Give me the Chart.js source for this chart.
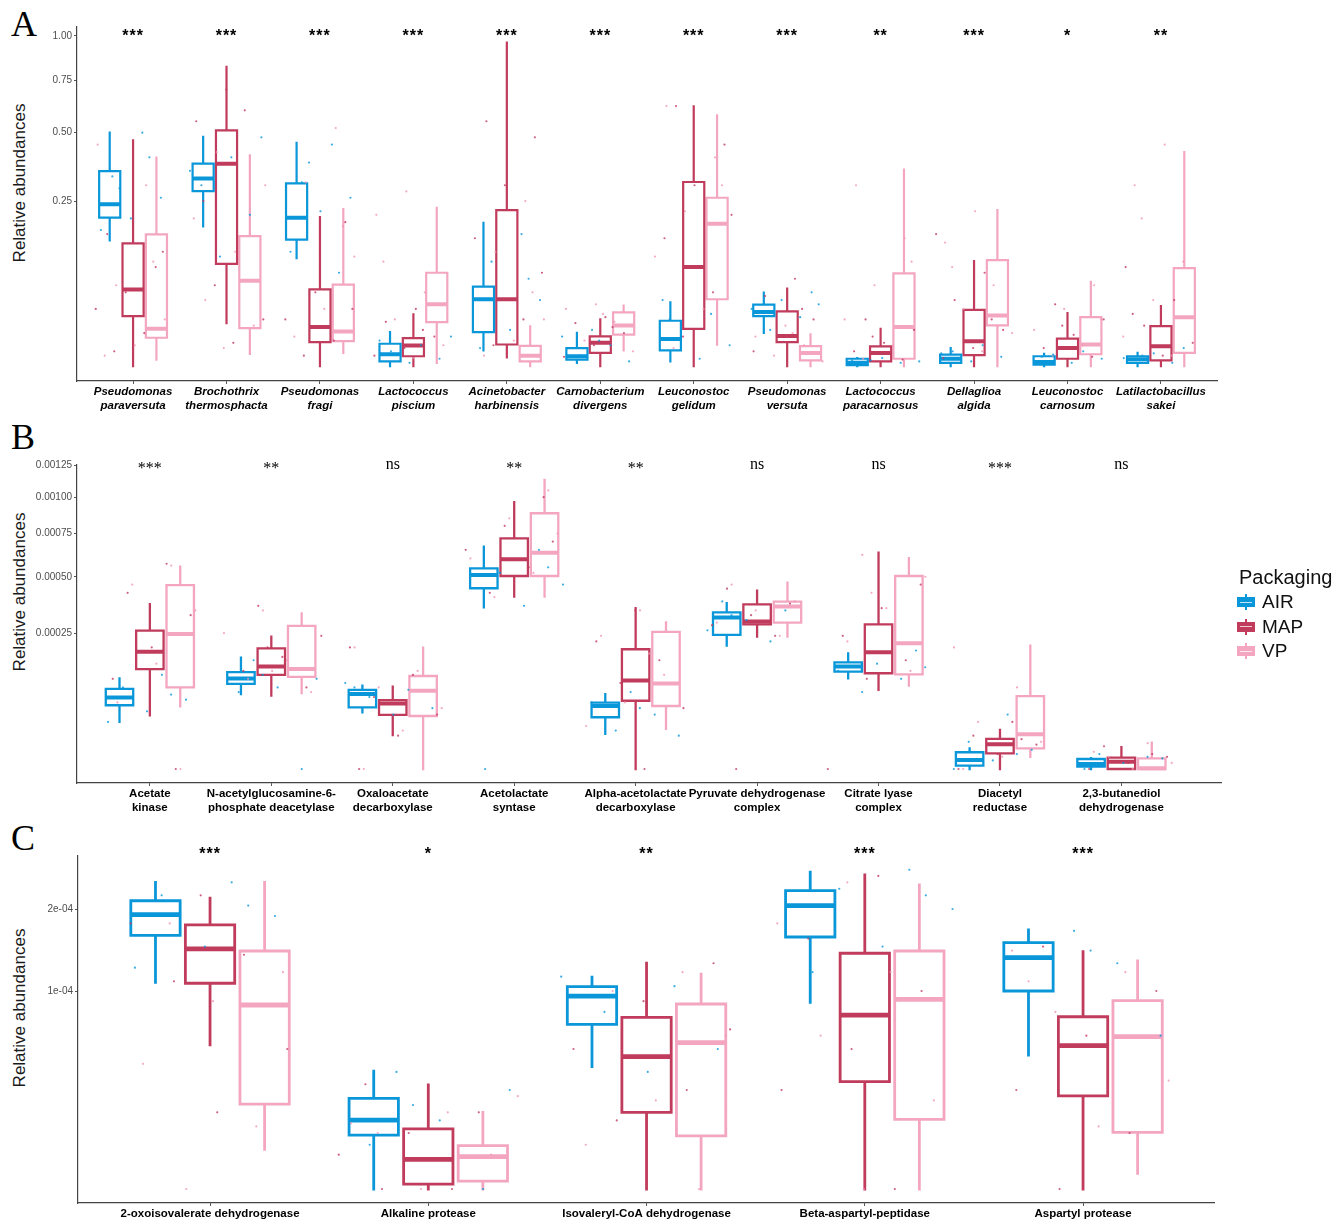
<!DOCTYPE html>
<html lang="en">
<head>
<meta charset="UTF-8">
<title>Relative abundances by packaging</title>
<script src="https://cdn.jsdelivr.net/npm/chart.js@4.4.1/dist/chart.umd.min.js"></script>
<style>
    body { margin: 0; background: #fff; font-family: "Liberation Sans", Arial, sans-serif; }
    #page { position: relative; width: 1337px; height: 1219px; overflow: hidden; background: #fff; }
    .panel { position: absolute; left: 0; width: 1337px; }
    .letter { position: absolute; left: 11px; font-family: "Liberation Serif", "DejaVu Serif", serif; font-size: 36px; line-height: 36px; color: #000; }
    .ytitle { position: absolute; left: 20px; transform: translate(-50%, -50%) rotate(-90deg); font-size: 17px; white-space: nowrap; color: #1a1a1a; }
    .legend { position: absolute; left: 1237px; top: 565px; color: #111; }
    .legend .title { font-size: 20px; line-height: 24px; margin-left: 2px; }
    .legend .item { position: relative; height: 24.5px; }
    .legend .key { position: absolute; left: 0; top: 8px; width: 18px; height: 10px; }
    .legend .key::before { content: ""; position: absolute; left: 8px; top: -3px; width: 2px; height: 16px; background: inherit; }
    .legend .key::after { content: ""; position: absolute; left: 3px; right: 3px; top: 4.5px; height: 1px; background: rgba(255,255,255,0.75); }
    .legend .lab { position: absolute; left: 25px; top: 1px; font-size: 19px; line-height: 24px; }
</style>
</head>
<body>
<div id="page">
    <div class="letter" style="top:6px">A</div>
    <div class="letter" style="top:419px">B</div>
    <div class="letter" style="top:820px">C</div>

    <div class="ytitle" style="top:183px">Relative abundances</div>
    <div class="ytitle" style="top:592px">Relative abundances</div>
    <div class="ytitle" style="top:1008px">Relative abundances</div>

    <div class="panel" style="top:0; height:420px"><canvas id="chartA"></canvas></div>
    <div class="panel" style="top:420px; height:400px"><canvas id="chartB"></canvas></div>
    <div class="panel" style="top:820px; height:399px"><canvas id="chartC"></canvas></div>

    <div class="legend">
        <div class="title">Packaging</div>
        <div class="item"><div class="key" style="background:#0a97d9"></div><div class="lab">AIR</div></div>
        <div class="item"><div class="key" style="background:#c03b5c"></div><div class="lab">MAP</div></div>
        <div class="item"><div class="key" style="background:#f4a6c0"></div><div class="lab">VP</div></div>
    </div>
</div>

<script>
    // packaging groups
    const groups = ['AIR', 'MAP', 'VP'];
    const groupColors = ['#0a97d9', '#c03b5c', '#f4a6c0'];
    const pointColors = ['rgba(10,151,217,0.8)', 'rgba(192,59,92,0.8)', 'rgba(240,150,180,0.8)'];

    // ---- Panel A: taxa ----
    const catsA = [
        ['Pseudomonas', 'paraversuta'], ['Brochothrix', 'thermosphacta'], ['Pseudomonas', 'fragi'],
        ['Lactococcus', 'piscium'], ['Acinetobacter', 'harbinensis'], ['Carnobacterium', 'divergens'],
        ['Leuconostoc', 'gelidum'], ['Pseudomonas', 'versuta'], ['Lactococcus', 'paracarnosus'],
        ['Dellaglioa', 'algida'], ['Leuconostoc', 'carnosum'], ['Latilactobacillus', 'sakei']
    ];
    const sigA = ['***', '***', '***', '***', '***', '***', '***', '***', '**', '***', '*', '**'];
    const yTicksA = [0.25, 0.5, 0.75, 1];
    const yLabelsA = ['0.25', '0.50', '0.75', '1.00'];

    // box stats: [lower whisker, q1, median, q3, upper whisker]
    const statsA_AIR = [
        [0.145, 0.202, 0.240, 0.349, 0.50],
        [0.179, 0.281, 0.323, 0.376, 0.482],
        [0.107, 0.147, 0.202, 0.306, 0.457],
        [0, 0.0002, 0.0013, 0.0046, 0.0106],
        [0.0023, 0.0106, 0.041, 0.058, 0.188],
        [0.0001, 0.0004, 0.0009, 0.0030, 0.0102],
        [0.0002, 0.0023, 0.0067, 0.0189, 0.0373],
        [0.0102, 0.023, 0.0268, 0.0346, 0.0495],
        [0, 0.00001, 0.0001, 0.0005, 0.0006],
        [0, 0.0001, 0.0005, 0.0012, 0.0030],
        [0, 0.00002, 0.00015, 0.0009, 0.0014],
        [0, 0.0001, 0.00045, 0.0009, 0.0016]
    ];
    const statsA_MAP = [
        [0, 0.023, 0.054, 0.138, 0.468],
        [0.017, 0.096, 0.376, 0.510, 0.821],
        [0, 0.0053, 0.014, 0.054, 0.204],
        [0, 0.0009, 0.0039, 0.0072, 0.0245],
        [0.0007, 0.0043, 0.041, 0.223, 0.960],
        [0, 0.0016, 0.0050, 0.0081, 0.020],
        [0, 0.0128, 0.090, 0.311, 0.619],
        [0, 0.0053, 0.0083, 0.0275, 0.055],
        [0, 0.0002, 0.0016, 0.0036, 0.0128],
        [0, 0.0011, 0.0057, 0.029, 0.101],
        [0, 0.0005, 0.0030, 0.0069, 0.0258],
        [0, 0.0003, 0.0036, 0.0147, 0.0331]
    ];
    const statsA_VP = [
        [0.0004, 0.0074, 0.0128, 0.159, 0.399],
        [0.0014, 0.0133, 0.067, 0.155, 0.407],
        [0.0016, 0.0057, 0.011, 0.061, 0.226],
        [0.0001, 0.0178, 0.035, 0.080, 0.230],
        [0, 0.0002, 0.0010, 0.0038, 0.0145],
        [0.0023, 0.0091, 0.0152, 0.0265, 0.0335],
        [0.0042, 0.041, 0.186, 0.260, 0.577],
        [0, 0.0003, 0.0016, 0.0037, 0.0092],
        [0, 0.0005, 0.014, 0.079, 0.354],
        [0, 0.0152, 0.0236, 0.103, 0.223],
        [0, 0.0013, 0.0043, 0.022, 0.065],
        [0, 0.0016, 0.022, 0.088, 0.42]
    ];
    // individual samples (jittered)
    const ptsA_AIR = [
        [0.50, 0.33, 0.26, 0.20, 0.17, 0.40, 0.29], [0.48, 0.40, 0.30, 0.21, 0.11, 0.35], [0.45, 0.31, 0.26, 0.22, 0.12, 0.08, 0.38],
        [0.008, 0.004, 0.002, 0.0005, 0.0001, 0.006], [0.16, 0.10, 0.04, 0.012, 0.003, 0.07], [0.012, 0.008, 0.004, 0.001, 0.0002, 0.006],
        [0.04, 0.025, 0.012, 0.004, 0.0005, 0.02], [0.05, 0.04, 0.03, 0.022, 0.012, 0.035], [0.0006, 0.0003, 0.0001, 0.0003, 0.0002],
        [0.004, 0.002, 0.0008, 0.0002, 0.0015], [0.002, 0.0012, 0.0005, 0.0001, 0.0008], [0.003, 0.0015, 0.0006, 0.0001, 0.001]
    ];
    const ptsA_MAP = [
        [0.16, 0.09, 0.05, 0.03, 0.01, 0.002, 0.12], [0.70, 0.55, 0.60, 0.06, 0.02, 0.005, 0.25], [0.19, 0.05, 0.02, 0.006, 0.001, 0.03],
        [0.03, 0.018, 0.008, 0.003, 0.001, 0.012], [0.55, 0.48, 0.30, 0.15, 0.02, 0.004, 0.08], [0.022, 0.017, 0.01, 0.004, 0.0008, 0.014],
        [0.62, 0.45, 0.30, 0.15, 0.05, 0.008, 0.21], [0.07, 0.045, 0.02, 0.008, 0.002, 0.03], [0.02, 0.012, 0.005, 0.002, 0.0004, 0.008],
        [0.16, 0.08, 0.04, 0.012, 0.003, 0.0006, 0.02], [0.035, 0.02, 0.009, 0.003, 0.0008, 0.015], [0.09, 0.04, 0.015, 0.005, 0.001, 0.025]
    ];
    const ptsA_VP = [
        [0.45, 0.30, 0.06, 0.02, 0.004, 0.001, 0.1], [0.42, 0.30, 0.12, 0.04, 0.015, 0.003, 0.2], [0.52, 0.31, 0.11, 0.03, 0.008, 0.18],
        [0.28, 0.21, 0.05, 0.02, 0.004, 0.0006, 0.1], [0.25, 0.12, 0.02, 0.006, 0.001, 0.05], [0.035, 0.03, 0.018, 0.006, 0.002, 0.025],
        [0.62, 0.40, 0.22, 0.11, 0.03, 0.003, 0.3], [0.015, 0.008, 0.004, 0.001, 0.0002, 0.01], [0.30, 0.15, 0.06, 0.02, 0.004, 0.0005, 0.1],
        [0.22, 0.14, 0.06, 0.03, 0.01, 0.002, 0.09], [0.06, 0.03, 0.012, 0.004, 0.001, 0.02], [0.45, 0.30, 0.10, 0.04, 0.008, 0.001, 0.2]
    ];

    // ---- Panel B: enzymes ----
    const catsB = [
        ['Acetate', 'kinase'], ['N-acetylglucosamine-6-', 'phosphate deacetylase'], ['Oxaloacetate', 'decarboxylase'],
        ['Acetolactate', 'syntase'], ['Alpha-acetolactate', 'decarboxylase'], ['Pyruvate dehydrogenase', 'complex'],
        ['Citrate lyase', 'complex'], ['Diacetyl', 'reductase'], ['2,3-butanediol', 'dehydrogenase']
    ];
    const sigB = ['***', '**', 'ns', '**', '**', 'ns', 'ns', '***', 'ns'];
    const yTicksB = [0.00025, 0.0005, 0.00075, 0.001, 0.00125];
    const yLabelsB = ['0.00025', '0.00050', '0.00075', '0.00100', '0.00125'];

    const statsB_AIR = [
        [3.0e-5, 5.5e-5, 6.9e-5, 8.7e-5, 1.11e-4],
        [7.6e-5, 9.8e-5, 1.11e-4, 1.27e-4, 1.68e-4],
        [4.35e-5, 5.15e-5, 7.6e-5, 8.45e-5, 9.4e-5],
        [3.54e-4, 4.42e-4, 5.09e-4, 5.45e-4, 6.69e-4],
        [1.66e-5, 3.62e-5, 5.37e-5, 5.95e-5, 7.6e-5],
        [2.06e-4, 2.43e-4, 3.11e-4, 3.32e-4, 3.72e-4],
        [1.11e-4, 1.28e-4, 1.42e-4, 1.54e-4, 1.81e-4],
        [0, 1.5e-7, 1.1e-6, 3.8e-6, 5.8e-6],
        [0, 7e-8, 3.4e-7, 1.35e-6, 1.6e-6]
    ];
    const statsB_MAP = [
        [3.9e-5, 1.35e-4, 1.86e-4, 2.59e-4, 3.68e-4],
        [7.3e-5, 1.2e-4, 1.42e-4, 1.97e-4, 2.37e-4],
        [1.56e-5, 3.95e-5, 5.8e-5, 6.4e-5, 9.2e-5],
        [4.02e-4, 5.04e-4, 5.95e-4, 7.2e-4, 9.63e-4],
        [0, 6.3e-5, 1.06e-4, 1.94e-4, 3.5e-4],
        [2.37e-4, 2.83e-4, 2.94e-4, 3.67e-4, 4.3e-4],
        [8.45e-5, 1.24e-4, 1.84e-4, 2.83e-4, 6.33e-4],
        [0, 3.3e-6, 8.3e-6, 1.22e-5, 2.06e-5],
        [0, 0, 7.2e-7, 1.73e-6, 6.4e-6]
    ];
    const statsB_VP = [
        [5.3e-5, 9.0e-5, 2.47e-4, 4.57e-4, 5.54e-4],
        [7.8e-5, 1.15e-4, 1.35e-4, 2.77e-4, 3.28e-4],
        [0, 3.8e-5, 8.3e-5, 1.17e-4, 1.99e-4],
        [4.02e-4, 5.04e-4, 6.33e-4, 8.85e-4, 1.13e-3],
        [2.17e-5, 5.37e-5, 9.9e-5, 2.54e-4, 2.91e-4],
        [2.37e-4, 2.9e-4, 3.57e-4, 3.79e-4, 4.7e-4],
        [9.4e-5, 1.21e-4, 2.14e-4, 5.04e-4, 6.01e-4],
        [2.0e-6, 5.8e-6, 1.63e-5, 7.2e-5, 2.06e-4],
        [0, 0, 1e-8, 1.55e-6, 9.4e-6]
    ];
    const ptsB_AIR = [
        [1.2e-4, 9e-5, 6.5e-5, 4.5e-5, 3e-5, 7.5e-5], [1.6e-4, 1.1e-4, 9e-5, 8e-5, 0, 1.2e-4], [1.0e-4, 8.5e-5, 7e-5, 5e-5, 4e-5, 9e-5],
        [6.5e-4, 5.2e-4, 4.6e-4, 3.6e-4, 0, 5.5e-4], [8e-5, 6e-5, 4e-5, 2e-5, 1.5e-5, 5e-5], [3.8e-4, 3.4e-4, 3e-4, 2.6e-4, 2.2e-4, 3.2e-4],
        [1.9e-4, 1.5e-4, 1.3e-4, 1.1e-4, 8e-5, 1.4e-4], [4e-5, 1e-5, 5e-6, 1e-6, 0, 3e-6], [3e-6, 1.5e-6, 5e-7, 0, 2e-6]
    ];
    const ptsB_MAP = [
        [5.7e-4, 4.2e-4, 3.2e-4, 2e-4, 1.1e-4, 0], [3.6e-4, 2.4e-4, 1.7e-4, 1.3e-4, 9e-5, 2e-4], [2.0e-4, 1.2e-4, 7e-5, 4e-5, 1.5e-5, 0],
        [1.0e-3, 8e-4, 6.5e-4, 5.5e-4, 4.2e-4, 7e-4], [3.4e-4, 2.2e-4, 1.6e-4, 1e-4, 5e-5, 0], [4.4e-4, 3.7e-4, 3.2e-4, 2.8e-4, 2.4e-4, 0],
        [4.6e-4, 3.5e-4, 2.4e-4, 1.6e-4, 1.1e-4, 0], [3e-5, 1.5e-5, 8e-6, 3e-6, 0, 1.2e-5], [7e-6, 2e-6, 5e-7, 0, 3e-6]
    ];
    const ptsB_VP = [
        [5.6e-4, 4.6e-4, 3.4e-4, 1.5e-4, 6e-5, 0], [3.4e-4, 2.5e-4, 1.6e-4, 1.1e-4, 8e-5, 1.3e-4], [2.0e-4, 1.3e-4, 9e-5, 5e-5, 2e-5, 0],
        [1.05e-3, 8.5e-4, 6e-4, 5.2e-4, 4e-4, 7.5e-4], [3.4e-4, 2.4e-4, 1.2e-4, 6e-5, 2.5e-5, 1.8e-4], [4.6e-4, 3.8e-4, 3.4e-4, 2.9e-4, 2.4e-4],
        [6.2e-4, 5e-4, 3.5e-4, 2.2e-4, 1.3e-4, 4.2e-4], [2e-4, 9e-5, 3e-5, 1e-5, 2e-6, 0], [9e-6, 2e-6, 5e-7, 0, 4e-6]
    ];

    // ---- Panel C: proteolytic enzymes ----
    const catsC = ['2-oxoisovalerate dehydrogenase', 'Alkaline protease', 'Isovaleryl-CoA dehydrogenase',
        'Beta-aspartyl-peptidase', 'Aspartyl protease'];
    const sigC = ['***', '*', '**', '***', '***'];
    const yTicksC = [1e-4, 2e-4];
    const yLabelsC = ['1e-04', '2e-04'];

    const statsC_AIR = [
        [1.09e-4, 1.64e-4, 1.92e-4, 2.12e-4, 2.40e-4],
        [0, 7.4e-6, 1.21e-5, 2.10e-5, 3.55e-5],
        [3.82e-5, 6.92e-5, 9.5e-5, 1.044e-4, 1.144e-4],
        [8.9e-5, 1.62e-4, 2.05e-4, 2.27e-4, 2.56e-4],
        [4.58e-5, 1.0e-4, 1.365e-4, 1.548e-4, 1.712e-4]
    ];
    const statsC_MAP = [
        [5.3e-5, 1.08e-4, 1.47e-4, 1.78e-4, 2.16e-4],
        [0, 6e-8, 2.25e-6, 9.2e-6, 2.76e-5],
        [0, 1.5e-5, 4.47e-5, 7.52e-5, 1.30e-4],
        [0, 2.94e-5, 7.72e-5, 1.418e-4, 2.516e-4],
        [0, 2.21e-5, 5.24e-5, 7.57e-5, 1.437e-4]
    ];
    const statsC_VP = [
        [4.0e-6, 1.84e-5, 8.64e-5, 1.445e-4, 2.40e-4],
        [0, 1.6e-7, 2.66e-6, 4.8e-6, 1.5e-5],
        [0, 7.2e-6, 5.46e-5, 8.73e-5, 1.179e-4],
        [0, 1.24e-5, 9.18e-5, 1.445e-4, 2.358e-4],
        [6.3e-7, 8.2e-6, 5.92e-5, 9.05e-5, 1.326e-4]
    ];
    const ptsC_AIR = [
        [2.4e-4, 2.2e-4, 1.9e-4, 1.5e-4, 1.25e-4, 2.05e-4], [3.5e-5, 2.5e-5, 1.2e-5, 5e-6, 0, 1.8e-5], [1.15e-4, 1.05e-4, 8e-5, 5e-5, 3.5e-5, 9.5e-5],
        [2.6e-4, 2.3e-4, 2.0e-4, 1.5e-4, 1.2e-4, 2.2e-4], [1.7e-4, 1.55e-4, 1.3e-4, 1.0e-4, 6e-5, 1.45e-4]
    ];
    const ptsC_MAP = [
        [2.2e-4, 1.8e-4, 1.4e-4, 1.1e-4, 5e-5, 1.5e-5], [2.8e-5, 1.5e-5, 8e-6, 3e-6, 0, 0], [1.3e-4, 9e-5, 5e-5, 2.5e-5, 1.2e-5, 6.5e-5],
        [2.5e-4, 1.6e-4, 1e-4, 5e-5, 2.5e-5, 0], [1.5e-4, 1.0e-4, 6e-5, 2.5e-5, 8e-6, 0]
    ];
    const ptsC_VP = [
        [1.8e-4, 1.2e-4, 9e-5, 4e-5, 1e-5, 0], [2.2e-5, 1.5e-5, 8e-6, 3e-6, 0, 1.1e-5], [1.2e-4, 1.0e-4, 6e-5, 2e-5, 5e-6, 0],
        [2.4e-4, 1.8e-4, 1.2e-4, 6e-5, 2e-5, 0], [1.45e-4, 1.2e-4, 8e-5, 3e-5, 1e-5, 1.1e-4]
    ];

    // layout of boxes inside one category (in category units)
    const DODGE = 0.25;
    const HALF_W = 0.113;
    const JITTER = 0.42;

    // significance labels above each category
    const sigPlugin = {
        id: 'sig',
        afterDatasetsDraw(chart, args, opts) {
            const ctx = chart.ctx;
            const x = chart.scales.x;
            ctx.save();
            ctx.font = opts.font;
            ctx.fillStyle = '#000';
            ctx.textAlign = 'center';
            ctx.textBaseline = 'middle';
            if (opts.spacing) ctx.letterSpacing = opts.spacing;
            opts.labels.forEach((t, i) => {
                const y = t.includes('*') ? opts.y + opts.starShift : opts.y;
                ctx.fillText(t, x.getPixelForValue(i + 1), y);
            });
            ctx.restore();
        }
    };

    function buildDatasets(stats, pts, lw) {
        const datasets = [];
        let n = 0;
        groups.forEach((g, gi) => {
            const dx = (gi - 1) * DODGE;
            const outline = [];
            const medians = [];
            stats[gi].forEach((s, ci) => {
                const x = ci + 1 + dx;
                const [lo, q1, med, q3, hi] = s.map(Math.sqrt);
                outline.push(
                    {x: x - HALF_W, y: q1}, {x: x + HALF_W, y: q1}, {x: x + HALF_W, y: q3},
                    {x: x - HALF_W, y: q3}, {x: x - HALF_W, y: q1}, {x: x, y: null},
                    {x: x, y: q3}, {x: x, y: hi}, {x: x, y: null},
                    {x: x, y: lo}, {x: x, y: q1}, {x: x, y: null}
                );
                medians.push({x: x - HALF_W, y: med}, {x: x + HALF_W, y: med}, {x: x, y: null});
            });
            const jitter = [];
            pts[gi].forEach((vals, ci) => {
                vals.forEach(v => {
                    n++;
                    const off = (((n * 0.618034 + gi * 0.29) % 1) - 0.5) * 2 * JITTER;
                    jitter.push({x: ci + 1 + off, y: Math.sqrt(v)});
                });
            });
            datasets.push({
                type: 'line', label: g + ' box', data: outline, order: 2,
                borderColor: groupColors[gi], borderWidth: lw.box, pointRadius: 0,
                fill: false, tension: 0, spanGaps: false, borderJoinStyle: 'miter', borderCapStyle: 'square'
            });
            datasets.push({
                type: 'line', label: g + ' median', data: medians, order: 1,
                borderColor: groupColors[gi], borderWidth: lw.median, pointRadius: 0,
                fill: false, tension: 0, spanGaps: false, borderCapStyle: 'butt'
            });
            datasets.push({
                type: 'scatter', label: g, data: jitter, order: 0,
                pointRadius: 1.1, pointBorderWidth: 0, pointBackgroundColor: pointColors[gi]
            });
        });
        return datasets;
    }

    function makePanel(id, p) {
        const ctx = document.getElementById(id).getContext('2d');
        return new Chart(ctx, {
            type: 'line',
            data: { datasets: buildDatasets(p.stats, p.pts, p.lw) },
            plugins: [sigPlugin],
            options: {
                responsive: true,
                maintainAspectRatio: false,
                animation: false,
                events: [],
                layout: { padding: { top: p.padTop, right: p.padRight, left: 0, bottom: 0 } },
                scales: {
                    x: {
                        type: 'linear',
                        min: p.xMin,
                        max: p.xMax,
                        afterBuildTicks: s => { s.ticks = p.cats.map((c, i) => ({ value: i + 1 })); },
                        afterFit: s => { s.height = p.xAxisH; },
                        ticks: {
                            autoSkip: false, maxRotation: 0, minRotation: 0, padding: 1,
                            color: '#000',
                            font: { family: '"Liberation Sans", Arial, sans-serif', size: 11.5, weight: 'bold', style: p.italic ? 'italic' : 'normal', lineHeight: 1.22 },
                            callback: (v, i) => p.cats[i]
                        },
                        grid: { drawOnChartArea: false, tickLength: 3, color: '#555' },
                        border: { color: '#444', width: 1.2 }
                    },
                    y: {
                        type: 'linear',
                        min: p.yMin,
                        max: p.yMax,
                        afterBuildTicks: s => { s.ticks = p.yTicks.map(v => ({ value: Math.sqrt(v) })); },
                        afterFit: s => { s.width = p.yAxisW; },
                        ticks: {
                            padding: 2, color: '#4d4d4d',
                            font: { family: '"Liberation Sans", Arial, sans-serif', size: 10 },
                            callback: (v, i) => p.yLabels[i]
                        },
                        grid: { drawOnChartArea: false, tickLength: 3, color: '#555' },
                        border: { color: '#444', width: 1.2 }
                    }
                },
                plugins: {
                    legend: { display: false },
                    tooltip: { enabled: false },
                    sig: { labels: p.sig, y: p.sigY, starShift: p.starShift, font: p.sigFont, spacing: p.sigSpacing }
                }
            }
        });
    }

    makePanel('chartA', {
        cats: catsA, sig: sigA, italic: true, lw: { box: 2.2, median: 4 },
        stats: [statsA_AIR, statsA_MAP, statsA_VP], pts: [ptsA_AIR, ptsA_MAP, ptsA_VP],
        yTicks: yTicksA, yLabels: yLabelsA, yMin: -0.045, yMax: 1.027,
        xMin: 0.4, xMax: 12.6, padTop: 27, padRight: 120, xAxisH: 39, yAxisW: 77,
        sigY: 37, starShift: 0, sigFont: 'bold 16px "Liberation Sans", Arial, sans-serif', sigSpacing: '1px'
    });

    makePanel('chartB', {
        cats: catsB, sig: sigB, italic: false, lw: { box: 2.3, median: 4 },
        stats: [statsB_AIR, statsB_MAP, statsB_VP], pts: [ptsB_AIR, ptsB_MAP, ptsB_VP],
        yTicks: yTicksB, yLabels: yLabelsB, yMin: -0.00163, yMax: 0.03536,
        xMin: 0.4, xMax: 9.82, padTop: 45, padRight: 116, xAxisH: 37, yAxisW: 77,
        sigY: 45, starShift: 4, sigFont: '16px "Liberation Serif", "DejaVu Serif", serif', sigSpacing: '0px'
    });

    makePanel('chartC', {
        cats: catsC, sig: sigC, italic: false, lw: { box: 2.8, median: 4.8 },
        stats: [statsC_AIR, statsC_MAP, statsC_VP], pts: [ptsC_AIR, ptsC_MAP, ptsC_VP],
        yTicks: yTicksC, yLabels: yLabelsC, yMin: -0.000707, yMax: 0.01682,
        xMin: 0.395, xMax: 5.6, padTop: 36, padRight: 123, xAxisH: 16, yAxisW: 78,
        sigY: 35, starShift: 0, sigFont: 'bold 16px "Liberation Sans", Arial, sans-serif', sigSpacing: '1px'
    });
</script>
</body>
</html>
